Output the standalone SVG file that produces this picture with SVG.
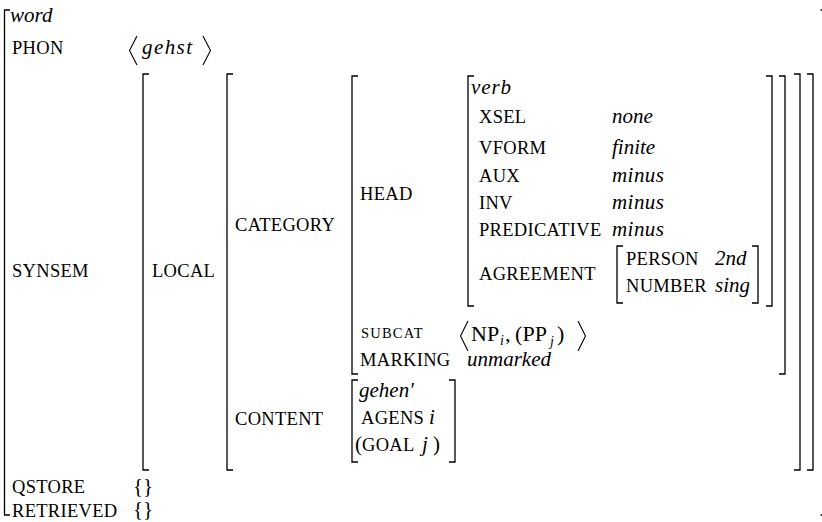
<svg xmlns="http://www.w3.org/2000/svg" width="822" height="522" viewBox="0 0 822 522">
<style>
.b{fill:none;stroke:#000;stroke-width:1.3}
.a{fill:none;stroke:#000;stroke-width:1.1;stroke-linejoin:miter}
text{font-family:"Liberation Serif",serif;fill:#000}
.l{font-size:18.5px;letter-spacing:0.3px}
.s{font-size:14.5px;letter-spacing:1.2px}
.v{font-size:21px;font-style:italic}
.r{font-size:21px}
.m{font-size:22px}
.sub{font-size:14px;font-style:italic}
</style>
<rect width="822" height="522" fill="#fff"/>
<g id="brackets">
<path class="b" d="M10 10H4.5V515H10"/>
<path class="b" d="M820.5 10H828V515H820.5"/>
<path class="b" d="M149 74H143V470H149"/>
<path class="b" d="M807 74H813V470H807"/>
<path class="b" d="M233 74H227V470H233"/>
<path class="b" d="M794 74H800V470H794"/>
<path class="b" d="M358 76H352V374H358"/>
<path class="b" d="M779 76H785V374H779"/>
<path class="b" d="M474 76H468V306H474"/>
<path class="b" d="M766 76H772V306H766"/>
<path class="b" d="M623 246H617V303H623"/>
<path class="b" d="M752 246H758V303H752"/>
<path class="b" d="M358 380H352V462H358"/>
<path class="b" d="M449 380H455V462H449"/>
<path class="a" d="M137 36L129.5 50.5L137 65M203 36L210.5 50.5L203 65"/>
<path class="a" d="M468 321L460.5 336L468 351M578 321L585.5 336L578 351"/>
</g>
<g id="word"><text class="v" x="10" y="22">word</text></g>
<g id="phon"><text class="l" x="12" y="54">PHON</text><text class="v" x="142" y="54" font-size="22" textLength="50">gehst</text></g>
<g id="synsem"><text class="l" x="12" y="277">SYNSEM</text></g>
<g id="local"><text class="l" x="152" y="277">LOCAL</text></g>
<g id="category"><text class="l" x="235" y="231">CATEGORY</text></g>
<g id="head">
<text class="l" x="360" y="200">HEAD</text>
<text class="v" x="471" y="94" textLength="40">verb</text>
<text class="l" x="479" y="123">XSEL</text><text class="v" x="612" y="123">none</text>
<text class="l" x="479" y="154">VFORM</text><text class="v" x="612" y="154">finite</text>
<text class="l" x="479" y="182">AUX</text><text class="v" x="612" y="182" textLength="52">minus</text>
<text class="l" x="479" y="209">INV</text><text class="v" x="612" y="209" textLength="52">minus</text>
<text class="l" x="479" y="236">PREDICATIVE</text><text class="v" x="612" y="236" textLength="52">minus</text>
</g>
<g id="agreement">
<text class="l" x="479" y="280">AGREEMENT</text>
<text class="l" x="626" y="265">PERSON</text><text class="v" x="715" y="265">2nd</text>
<text class="l" x="626" y="292">NUMBER</text><text class="v" x="715" y="292">sing</text>
</g>
<g id="subcat">
<text class="s" x="361" y="338">SUBCAT</text>
<text class="m" x="471" y="341">NP</text><text class="sub" x="500" y="345">i</text><text class="m" x="505" y="341">,</text>
<text class="m" x="515" y="341">(</text><text class="m" x="522.5" y="341">PP</text><text class="sub" x="550" y="346">j</text><text class="m" x="557" y="341">)</text>
</g>
<g id="marking"><text class="l" x="360" y="366">MARKING</text><text class="v" x="467" y="366">unmarked</text></g>
<g id="content">
<text class="l" x="235" y="425">CONTENT</text>
<text class="v" x="359" y="397">gehen′</text>
<text class="l" x="361" y="424">AGENS</text><text class="v" x="429" y="424">i</text>
<text class="r" x="355" y="451">(</text><text class="l" x="362" y="451">GOAL</text><text class="v" x="422" y="451">j</text><text class="r" x="433" y="451">)</text>
</g>
<g id="qstore"><text class="l" x="12" y="493">QSTORE</text><text class="r" x="133" y="493">{}</text></g>
<g id="retrieved"><text class="l" x="12" y="517">RETRIEVED</text><text class="r" x="133" y="516">{}</text></g>
</svg>
